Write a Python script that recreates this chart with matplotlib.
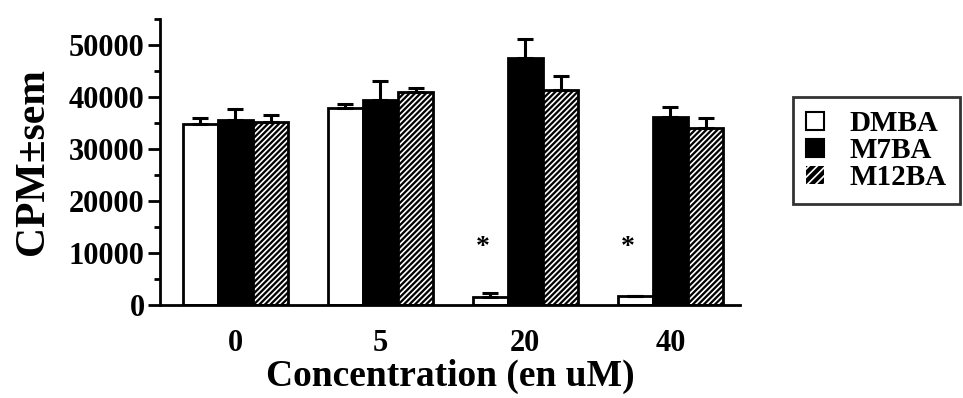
import numpy as np
import matplotlib
matplotlib.use("Agg")
import matplotlib.pyplot as plt
from matplotlib.patches import Patch
from matplotlib.ticker import MultipleLocator

plt.rcParams['font.family'] = ['Liberation Serif', 'DejaVu Serif']
plt.rcParams['font.weight'] = 'bold'
plt.rcParams['hatch.linewidth'] = 1.2

# data
concentrations = ['0', '5', '20', '40']
series = ['DMBA', 'M7BA', 'M12BA']
dmba = [34900, 37800, 1500, 1700]
dmba_err = [1100, 900, 800, 0]
m7ba = [35500, 39400, 47500, 36200]
m7ba_err = [2100, 3600, 3700, 1800]
m12ba = [35100, 40900, 41300, 34100]
m12ba_err = [1400, 900, 2700, 1900]
star_groups = [2, 3]

fig = plt.figure(figsize=(9.63, 3.98), dpi=100)
ax = fig.add_axes([0.1661, 0.2337, 0.6023, 0.7186])

x = np.arange(len(concentrations))
w = 0.243
ekw = dict(elinewidth=2.2, capthick=2.2, capsize=6, ecolor='black')

def upper(err):
    return [np.zeros(len(err)), err]

ax.bar(x - w, dmba, w, color='white', edgecolor='black', linewidth=2,
       yerr=upper(dmba_err), error_kw=ekw, zorder=2)
ax.bar(x, m7ba, w, color='black', edgecolor='black', linewidth=2,
       yerr=upper(m7ba_err), error_kw=ekw, zorder=2)
ax.bar(x + w, m12ba, w, color='black', edgecolor='white', linewidth=0,
       hatch='//////', zorder=2)
ax.bar(x + w, m12ba, w, fill=False, edgecolor='black', linewidth=2,
       yerr=upper(m12ba_err), error_kw=ekw, zorder=3)

for g in star_groups:
    ax.text(g - w - 0.05, 11000, '*', ha='center', va='center', fontsize=20)

ax.set_xlim(-0.52, 3.48)
ax.set_ylim(0, 55000)
ax.set_xticks(x)
ax.set_xticklabels(concentrations)
ax.yaxis.set_major_locator(MultipleLocator(10000))
ax.yaxis.set_minor_locator(MultipleLocator(5000))
ax.tick_params(axis='x', length=0, pad=17, labelsize=22)
ax.tick_params(axis='y', which='major', length=9, width=2, pad=2, labelsize=22)
ax.tick_params(axis='y', which='minor', length=4, width=2)
for s in ['top', 'right']:
    ax.spines[s].set_visible(False)
for s in ['left', 'bottom']:
    ax.spines[s].set_linewidth(2)

ax.set_xlabel('Concentration (en uM)', fontsize=27, fontweight='bold', labelpad=1)
ax.set_ylabel('CPM±sem', fontsize=30, fontweight='bold', labelpad=12)

handles = [
    Patch(facecolor='white', edgecolor='black', linewidth=1.5),
    Patch(facecolor='black', edgecolor='black', linewidth=1.5),
    Patch(facecolor='black', edgecolor='white', hatch='////', linewidth=0),
]
leg = fig.legend(handles, series, loc='upper left',
                 bbox_to_anchor=(793 / 963, 1 - 97 / 398),
                 bbox_transform=fig.transFigure, fontsize=21,
                 frameon=True, fancybox=False, edgecolor='black',
                 handlelength=0.6, handleheight=0.6, handletextpad=0.9,
                 labelspacing=0.0, borderpad=0.45, borderaxespad=0)
leg.get_frame().set_linewidth(2)

fig.savefig('out.png', dpi=100)
